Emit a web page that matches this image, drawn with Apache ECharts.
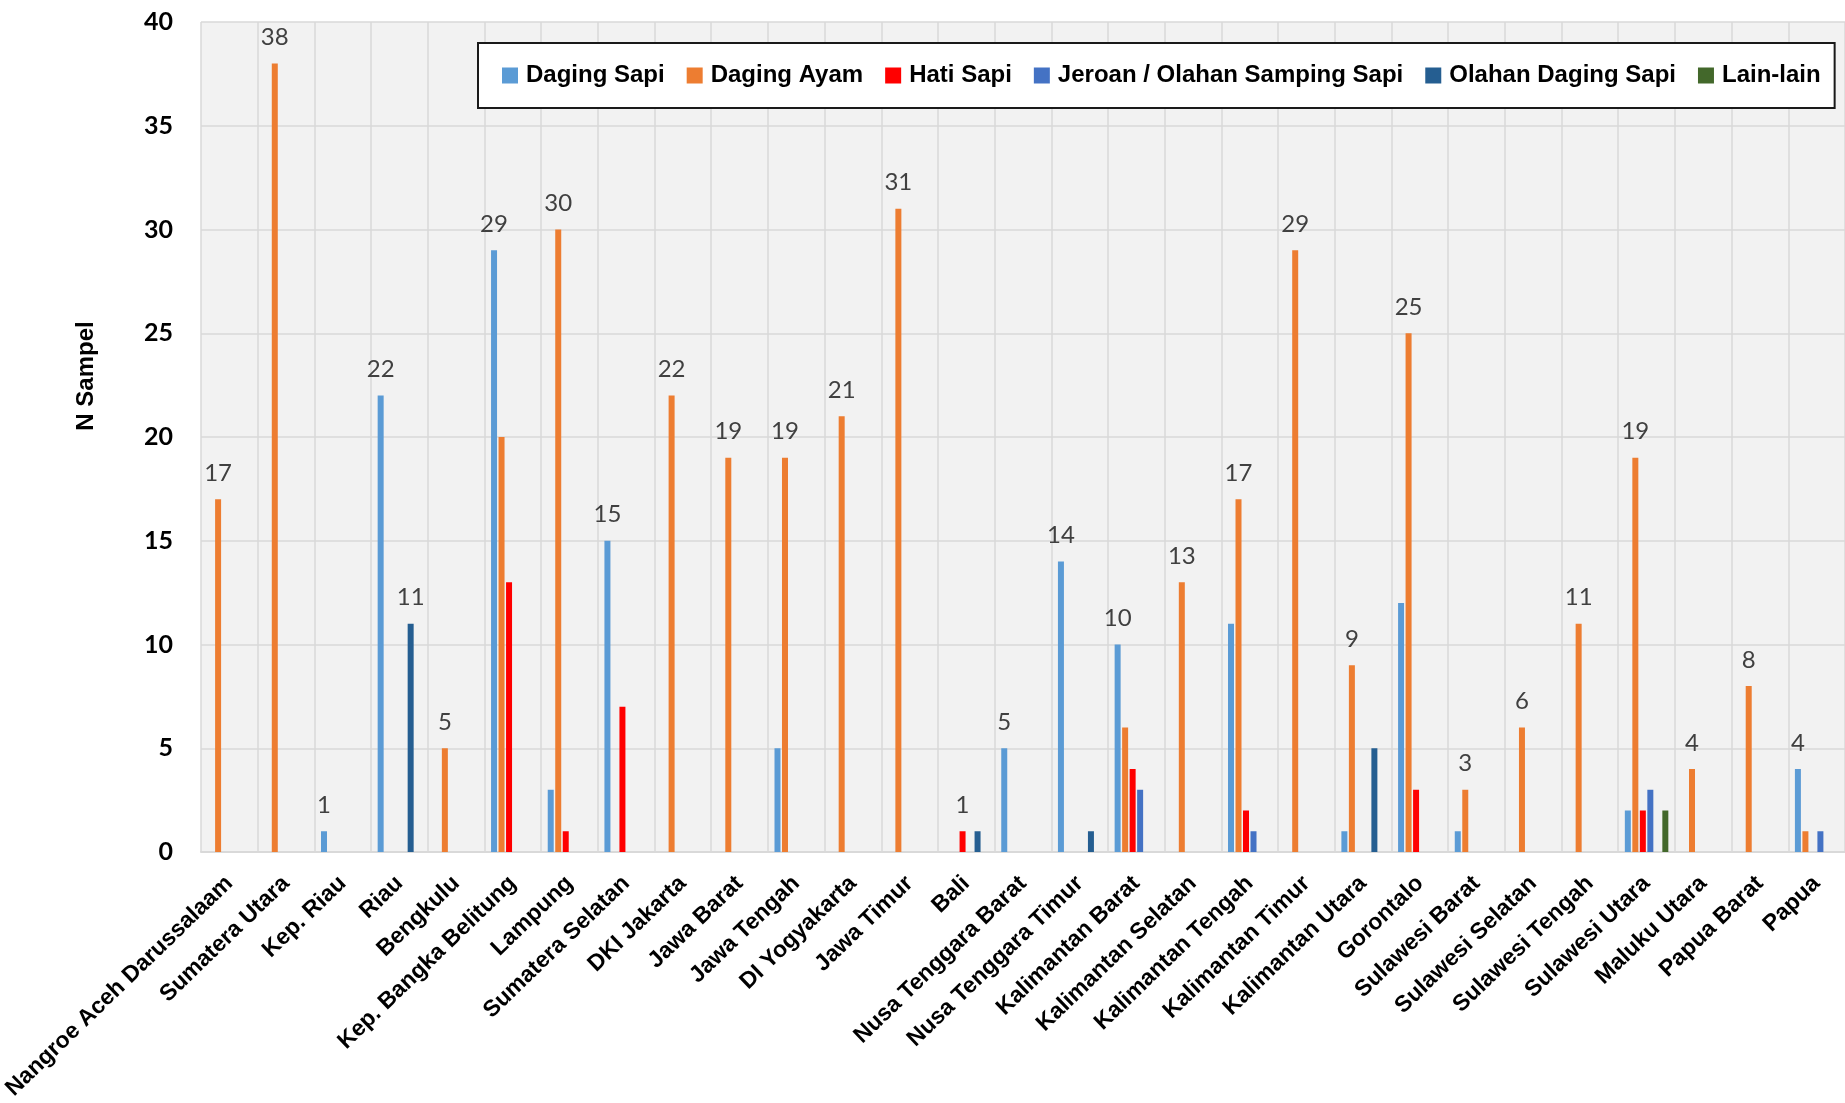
<!DOCTYPE html>
<html>
<head>
<meta charset="utf-8">
<script src="https://cdn.jsdelivr.net/npm/echarts@6/dist/echarts.min.js"></script>
<style>
html,body{margin:0;padding:0;background:#ffffff;}
#c{width:1845px;height:1103px;}
</style>
</head>
<body>
<div id="c"></div>
<script>
// ---- data ----
const categories = [
  'Nangroe Aceh Darussalaam','Sumatera Utara','Kep. Riau','Riau','Bengkulu',
  'Kep. Bangka Belitung','Lampung','Sumatera Selatan','DKI Jakarta','Jawa Barat',
  'Jawa Tengah','DI Yogyakarta','Jawa Timur','Bali','Nusa Tenggara Barat',
  'Nusa Tenggara Timur','Kalimantan Barat','Kalimantan Selatan','Kalimantan Tengah','Kalimantan Timur',
  'Kalimantan Utara','Gorontalo','Sulawesi Barat','Sulawesi Selatan','Sulawesi Tengah',
  'Sulawesi Utara','Maluku Utara','Papua Barat','Papua'
];
const seriesNames = ['Daging Sapi','Daging Ayam','Hati Sapi','Jeroan / Olahan Samping Sapi','Olahan Daging Sapi','Lain-lain'];
const dagingSapi = [0,0,1,22,0,29,3,15,0,0,5,0,0,0,5,14,10,0,11,0,1,12,1,0,0,2,0,0,4];
const dagingAyam = [17,38,0,0,5,20,30,0,22,19,19,21,31,0,0,0,6,13,17,29,9,25,3,6,11,19,4,8,1];
const hatiSapi   = [0,0,0,0,0,13,1,7,0,0,0,0,0,1,0,0,4,0,2,0,0,3,0,0,0,2,0,0,0];
const jeroan     = [0,0,0,0,0,0,0,0,0,0,0,0,0,0,0,0,3,0,1,0,0,0,0,0,0,3,0,0,1];
const olahanSapi = [0,0,0,11,0,0,0,0,0,0,0,0,0,1,0,1,0,0,0,0,5,0,0,0,0,0,0,0,0];
const lainLain   = [0,0,0,0,0,0,0,0,0,0,0,0,0,0,0,0,0,0,0,0,0,0,0,0,0,2,0,0,0];
// which series carries the value label in each category
const labelSeries = [[1],[1],[0],[0,4],[1],[0],[1],[0],[1],[1],[1],[1],[1],[2],[0],[0],[0],[1],[1],[1],[1],[1],[1],[1],[1],[1],[1],[1],[0]];
const yTicks = {min:0, max:40, interval:5};

// ---- styles ----
const colors = ['#5B9BD5','#ED7D31','#FF0000','#4472C4','#255E91','#43682B'];
const valueSets = [dagingSapi, dagingAyam, hatiSapi, jeroan, olahanSapi, lainLain];

// detect narrow font
function hasFont(name){
  const cv = document.createElement('canvas').getContext('2d');
  const t = 'Daging Ayam Olahan Samping';
  cv.font = 'bold 40px monospace'; const a = cv.measureText(t).width;
  cv.font = 'bold 40px "' + name + '", monospace'; const b = cv.measureText(t).width;
  return Math.abs(a-b) > 1;
}
const narrowOK = hasFont('Liberation Sans Narrow');
const narrowFamily = narrowOK ? '"Liberation Sans Narrow", "Arial Narrow", sans-serif' : '"Liberation Sans", Arial, sans-serif';
const legendSize = narrowOK ? 29 : 24;
const nameSize = narrowOK ? 29 : 24;

const series = valueSets.map((vals, si) => ({
  name: seriesNames[si],
  type: 'bar',
  barWidth: 6,
  barGap: '25%',
  itemStyle: {color: colors[si]},
  label: {show:false, position:'top', distance:14, color:'#404040', fontFamily:'Lato', fontSize:24, fontWeight:'normal'},
  data: vals.map((v, ci) => labelSeries[ci].includes(si) ? {value:v, label:{show:true}} : v)
}));

const chart = echarts.init(document.getElementById('c'), null, {renderer:'canvas'});
chart.setOption({
  animation: false,
  backgroundColor: '#ffffff',
  grid: {left:201, right:0, top:22, bottom:251, show:true, backgroundColor:'#F2F2F2', borderWidth:0,
         containLabel:false, outerBoundsMode:'none'},
  legend: {
    left: 478, top: 43, width: 1600,
    padding: [18, 14, 18, 24],
    backgroundColor: '#ffffff',
    borderColor: '#1a1a1a', borderWidth: 2,
    icon: 'rect', itemWidth: 16, itemHeight: 16, itemGap: 22,
    textStyle: {fontFamily: narrowFamily, fontWeight:'bold', fontSize: legendSize, color:'#000', padding:[0,0,0,3], lineHeight: 29},
    data: seriesNames
  },
  xAxis: {
    type: 'category',
    data: categories,
    boundaryGap: true,
    axisLine: {show:true, lineStyle:{color:'#D9D9D9', width:2}},
    axisTick: {show:false},
    splitLine: {show:true, interval:0, lineStyle:{color:'#D9D9D9', width:1.5}},
    axisLabel: {interval:0, rotate:44, margin:28, fontFamily:'"Liberation Sans", Arial, sans-serif', fontWeight:'bold', fontSize:23, color:'#000'}
  },
  yAxis: {
    type: 'value',
    min: yTicks.min, max: yTicks.max, interval: yTicks.interval,
    axisLine: {show:false},
    axisTick: {show:false},
    splitLine: {show:true, lineStyle:{color:'#D9D9D9', width:1.5}},
    axisLabel: {margin:28, fontFamily:'Lato', fontWeight:'bold', fontSize:25, color:'#000'}
  },
  graphic: [{
    type: 'text', x: 86, y: 376, rotation: Math.PI/2,
    style: {text:'N Sampel', fontFamily: narrowFamily, fontWeight:'bold', fontSize: nameSize, fill:'#000', align:'center', verticalAlign:'middle'}
  }],
  series: series
});
</script>
</body>
</html>
